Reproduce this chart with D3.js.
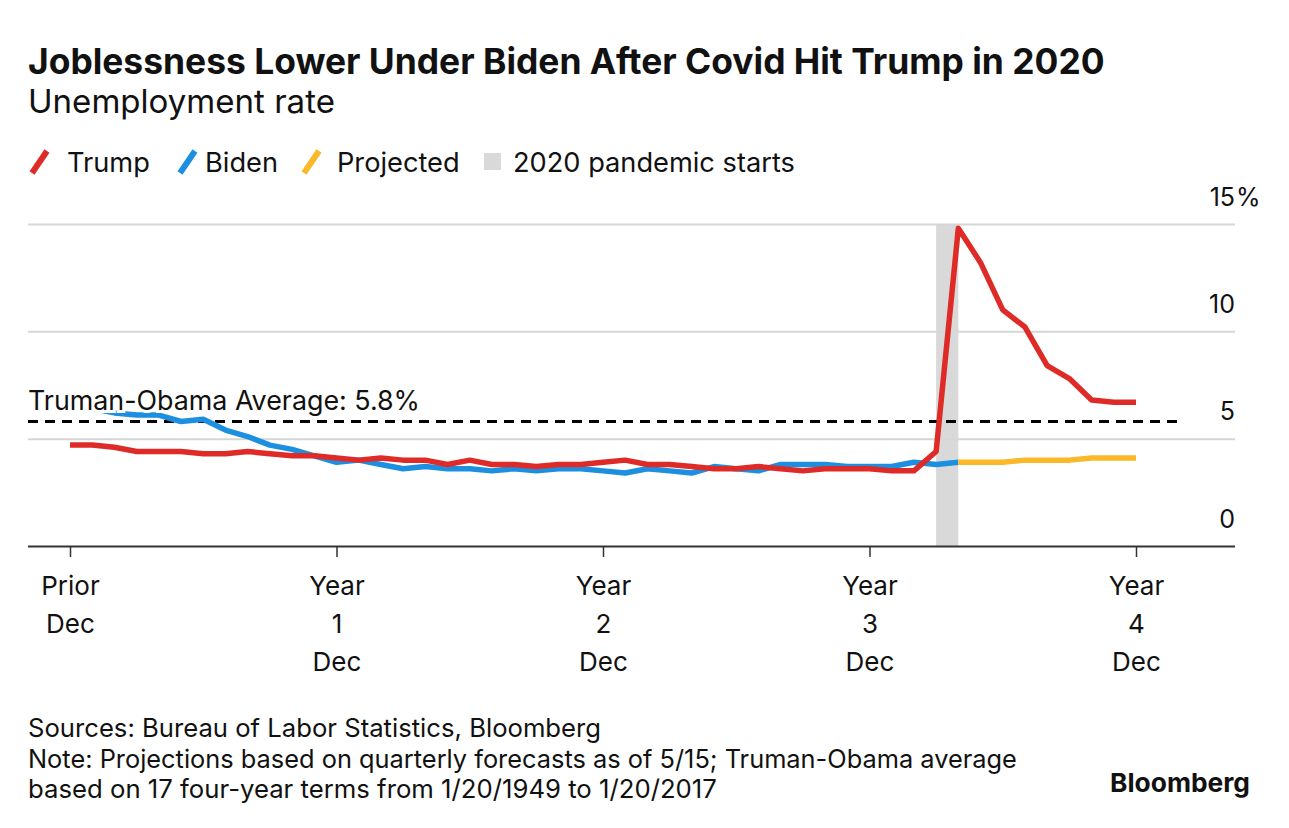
<!DOCTYPE html>
<html>
<head>
    <meta charset="utf-8">
    <title>joblessness-trump-biden</title>
    <script type="text/javascript" src="https://cdn.jsdelivr.net/npm/d3@7"></script>
    <style type="text/css">
        html, body { margin: 0; padding: 0; background: #fff; }
        svg text { font-family: Inter, "Liberation Sans", Arial, sans-serif; fill: #111; }
    </style>
</head>
<body>
<div id="app"></div>

<script type="text/javascript">
    // monthly unemployment rate, month 0 = Dec before the term starts
    const trumpRate = [4.7,
        4.7, 4.6, 4.4, 4.4, 4.4, 4.3, 4.3, 4.4, 4.3, 4.2, 4.2, 4.1,
        4.0, 4.1, 4.0, 4.0, 3.8, 4.0, 3.8, 3.8, 3.7, 3.8, 3.8, 3.9,
        4.0, 3.8, 3.8, 3.7, 3.6, 3.6, 3.7, 3.6, 3.5, 3.6, 3.6, 3.6,
        3.5, 3.5, 4.4, 14.8, 13.2, 11.0, 10.2, 8.4, 7.8, 6.8, 6.7, 6.7];
    const bidenRate = [6.7,
        6.4, 6.2, 6.1, 6.1, 5.8, 5.9, 5.4, 5.1, 4.7, 4.5, 4.2, 3.9,
        4.0, 3.8, 3.6, 3.7, 3.6, 3.6, 3.5, 3.6, 3.5, 3.6, 3.6, 3.5,
        3.4, 3.6, 3.5, 3.4, 3.7, 3.6, 3.5, 3.8, 3.8, 3.8, 3.7, 3.7,
        3.7, 3.9, 3.8, 3.9];
    const projStart = 40;
    const projectedRate = [3.9, 3.9, 3.9, 4.0, 4.0, 4.0, 4.1, 4.1, 4.1];
    const pandemicBand = [39, 40];
    const averageRate = 5.8;
    const yTicks = [0, 5, 10, 15];
    const xTicks = [0, 12, 24, 36, 48];
    const xTickLabels = [["Prior", "Dec"], ["Year", "1", "Dec"], ["Year", "2", "Dec"], ["Year", "3", "Dec"], ["Year", "4", "Dec"]];

    const RED = "#de2b27", BLUE = "#1d8fe1", YELLOW = "#fbb828", BAND = "#d9d9d9";

    const W = 1289, H = 828;
    const svg = d3.select("#app").append("svg").attr("width", W).attr("height", H);

    const x = d3.scaleLinear().domain([0, 48]).range([70, 1136]);
    const y = d3.scaleLinear().domain([0, 15]).range([546, 224]);
    const left = 28, right = 1235;

    // scale a text's font-size so it spans the given width
    function fit(t, w) {
        const fs = parseFloat(t.attr("font-size"));
        const len = t.node().getComputedTextLength();
        t.attr("font-size", (fs * w / len).toFixed(2));
        return t;
    }

    // heading
    fit(svg.append("text").attr("x", left).attr("y", 74).attr("font-size", 32)
        .attr("font-weight", 700).text("Joblessness Lower Under Biden After Covid Hit Trump in 2020"), 1077);
    fit(svg.append("text").attr("x", left).attr("y", 113).attr("font-size", 28)
        .text("Unemployment rate"), 307);

    // legend
    const legend = svg.append("g");
    const legItems = [
        {label: "Trump", color: RED, x: 30, tx: 67},
        {label: "Biden", color: BLUE, x: 178, tx: 205},
        {label: "Projected", color: YELLOW, x: 302, tx: 337}
    ];
    legItems.forEach(function (d) {
        legend.append("line").attr("x1", d.x + 2).attr("y1", 173).attr("x2", d.x + 17).attr("y2", 151)
            .attr("stroke", d.color).attr("stroke-width", 6);
        legend.append("text").attr("class", "leg").attr("x", d.tx).attr("y", 172).text(d.label);
    });
    legend.append("rect").attr("x", 484).attr("y", 153).attr("width", 17).attr("height", 17).attr("fill", BAND);
    const lastLeg = legend.append("text").attr("x", 513).attr("y", 172).attr("font-size", 26).text("2020 pandemic starts");
    fit(lastLeg, 282);
    legend.selectAll("text.leg").attr("font-size", lastLeg.attr("font-size"));

    // grid + y labels
    const yAxis = svg.append("g").attr("transform", "translate(" + right + ",0)")
        .call(d3.axisLeft(y).tickValues(yTicks).tickSize(right - left).tickFormat(function (d) { return d; }));
    yAxis.select(".domain").remove();
    yAxis.selectAll(".tick line").attr("stroke", function (d) { return d === 0 ? "#333" : "#d6d6d6"; })
        .attr("stroke-width", 2);
    yAxis.selectAll(".tick text").attr("x", 0).attr("dy", -19).attr("text-anchor", "end")
        .attr("font-size", 25).attr("font-family", null).attr("fill", "#111");
    // the % sign hangs past the right edge
    yAxis.selectAll(".tick").filter(function (d) { return d === 15; })
        .append("text").attr("x", 1).attr("dy", -19).attr("text-anchor", "start")
        .attr("font-size", 25).attr("fill", "#111").text("%");

    // pandemic band
    svg.insert("rect", "g")
        .attr("x", x(pandemicBand[0])).attr("width", x(pandemicBand[1]) - x(pandemicBand[0]))
        .attr("y", y(15)).attr("height", y(0) - y(15)).attr("fill", BAND);

    // x axis ticks + labels
    const xAxis = svg.append("g").attr("transform", "translate(0," + y(0) + ")")
        .call(d3.axisBottom(x).tickValues(xTicks).tickSize(11).tickFormat(""));
    xAxis.select(".domain").remove();
    xAxis.selectAll(".tick line").attr("stroke", "#333").attr("stroke-width", 1.5);
    xAxis.selectAll(".tick").each(function (d, i) {
        const t = d3.select(this).append("text").attr("fill", "#111").attr("font-size", 26)
            .attr("font-family", null).attr("text-anchor", "middle");
        xTickLabels[i].forEach(function (s, k) {
            t.append("tspan").attr("x", 0).attr("y", 49 + k * 38).text(s);
        });
    });

    // average line
    svg.append("line").attr("x1", left).attr("x2", 1180).attr("y1", y(averageRate)).attr("y2", y(averageRate))
        .attr("stroke", "#000").attr("stroke-width", 3).attr("stroke-dasharray", "10,7");

    // series
    const line = d3.line().x(function (d) { return x(d[0]); }).y(function (d) { return y(d[1]); });
    function draw(vals, start, color) {
        svg.append("path")
            .datum(vals.map(function (v, i) { return [start + i, v]; }))
            .attr("d", line).attr("fill", "none").attr("stroke", color)
            .attr("stroke-width", 5.5).attr("stroke-linejoin", "round");
    }
    draw(bidenRate, 0, BLUE);
    draw(projectedRate, projStart, YELLOW);
    draw(trumpRate, 0, RED);

    // average label with a white halo
    fit(svg.append("text").attr("x", left).attr("y", 410).attr("font-size", 26)
        .attr("stroke", "#fff").attr("stroke-width", 6).attr("paint-order", "stroke")
        .text("Truman-Obama Average: 5.8%"), 392);

    // footer
    fit(svg.append("text").attr("x", left).attr("y", 737).attr("font-size", 23)
        .text("Sources: Bureau of Labor Statistics, Bloomberg"), 573);
    fit(svg.append("text").attr("x", left).attr("y", 768).attr("font-size", 23)
        .text("Note: Projections based on quarterly forecasts as of 5/15; Truman-Obama average"), 989);
    fit(svg.append("text").attr("x", left).attr("y", 798).attr("font-size", 23)
        .text("based on 17 four-year terms from 1/20/1949 to 1/20/2017"), 689);
    fit(svg.append("text").attr("x", 1110).attr("y", 792).attr("font-size", 26).attr("font-weight", 700)
        .text("Bloomberg"), 140);
</script>
</body>
</html>
